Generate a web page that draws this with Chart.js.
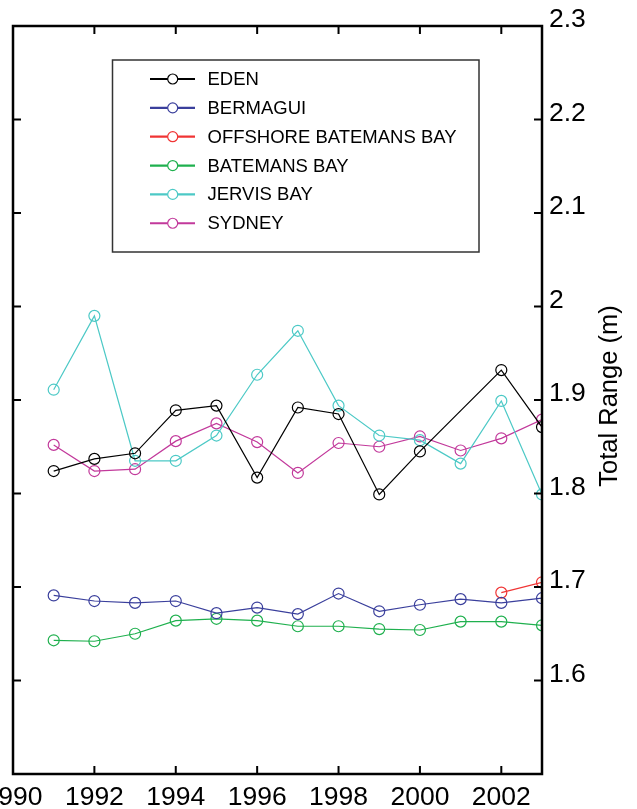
<!DOCTYPE html>
<html>
<head>
<meta charset="utf-8">
<script src="https://cdn.jsdelivr.net/npm/chart.js@4/dist/chart.umd.min.js"></script>
<style>
  html, body { margin: 0; padding: 0; background: #fff; overflow: hidden; width: 637px; height: 809px; }
  #wrap { position: absolute; left: -60px; top: 0; width: 697px; height: 809px; }
</style>
</head>
<body>
<div id="wrap"><canvas id="c" width="697" height="809"></canvas></div>
<script>
const years = [1991, 1992, 1993, 1994, 1995, 1996, 1997, 1998, 1999, 2000, 2001, 2002, 2003];
const eden      = [1.824, 1.837, 1.843, 1.889, 1.894, 1.817, 1.892, 1.885, 1.799, 1.845, null, 1.932, 1.871];
const bermagui  = [1.691, 1.685, 1.683, 1.685, 1.672, 1.678, 1.671, 1.693, 1.674, 1.681, 1.687, 1.683, 1.688];
const offshore  = [null, null, null, null, null, null, null, null, null, null, null, 1.694, 1.705];
const batemans  = [1.643, 1.642, 1.650, 1.664, 1.666, 1.664, 1.658, 1.658, 1.655, 1.654, 1.663, 1.663, 1.659];
const jervis    = [1.911, 1.990, 1.835, 1.835, 1.862, 1.927, 1.974, 1.894, 1.862, 1.857, 1.832, 1.899, 1.799];
const sydney    = [1.852, 1.824, 1.826, 1.856, 1.875, 1.855, 1.822, 1.854, 1.850, 1.861, 1.846, 1.859, 1.879];

const seriesNames  = ['EDEN', 'BERMAGUI', 'OFFSHORE BATEMANS BAY', 'BATEMANS BAY', 'JERVIS BAY', 'SYDNEY'];
const seriesValues = [eden, bermagui, offshore, batemans, jervis, sydney];
const seriesColors = ['#000000', '#3a3f9c', '#f03434', '#1fb04e', '#4cc9c6', '#c2399b'];

const xTickYears = [1990, 1992, 1994, 1996, 1998, 2000, 2002];
const yTickValues = [1.5, 1.6, 1.7, 1.8, 1.9, 2.0, 2.1, 2.2, 2.3];
const yTitle = 'Total Range (m)';

const FONT = '"Liberation Sans", Arial, Helvetica, sans-serif';

const datasets = seriesNames.map((name, i) => ({
  label: name,
  data: years.map((yr, j) => ({ x: yr, y: seriesValues[i][j] })),
  borderColor: seriesColors[i],
  backgroundColor: 'rgba(0,0,0,0)',
  pointBorderColor: seriesColors[i],
  pointBackgroundColor: 'rgba(0,0,0,0)',
  pointRadius: 5.5,
  pointBorderWidth: 1.2,
  borderWidth: 1.2,
  spanGaps: true,
  tension: 0
}));

const framePlugin = {
  id: 'frame',
  afterDraw(chart) {
    const ctx = chart.ctx;
    const a = chart.chartArea;
    const xs = chart.scales.x, ys = chart.scales.y;
    ctx.save();
    ctx.strokeStyle = '#000';
    // inward ticks
    ctx.lineWidth = 2;
    ctx.beginPath();
    xTickYears.forEach(v => {
      if (v <= xs.min || v >= xs.max) return;
      const px = xs.getPixelForValue(v);
      ctx.moveTo(px, a.bottom); ctx.lineTo(px, a.bottom - 8);
      ctx.moveTo(px, a.top); ctx.lineTo(px, a.top + 8);
    });
    yTickValues.forEach(v => {
      if (v <= ys.min + 1e-9 || v >= ys.max - 1e-9) return;
      const py = ys.getPixelForValue(v);
      ctx.moveTo(a.left, py); ctx.lineTo(a.left + 8, py);
      ctx.moveTo(a.right, py); ctx.lineTo(a.right - 8, py);
    });
    ctx.stroke();
    // frame
    ctx.lineWidth = 2.5;
    ctx.strokeRect(a.left, a.top, a.right - a.left, a.bottom - a.top);

    // legend box
    const bx = 172.5, by = 60, bw = 366.5, bh = 192;
    ctx.fillStyle = '#fff';
    ctx.fillRect(bx, by, bw, bh);
    ctx.lineWidth = 1.5;
    ctx.strokeStyle = '#333';
    ctx.strokeRect(bx, by, bw, bh);
    chart.data.datasets.forEach((ds, i) => {
      const cy = 79 + i * 28.85;
      ctx.strokeStyle = ds.borderColor;
      ctx.lineWidth = 2.2;
      ctx.beginPath();
      ctx.moveTo(210, cy); ctx.lineTo(255, cy);
      ctx.stroke();
      ctx.lineWidth = 1.2;
      ctx.beginPath();
      ctx.fillStyle = '#fff';
      ctx.arc(232.7, cy, 5, 0, Math.PI * 2);
      ctx.fill();
      ctx.stroke();
      ctx.fillStyle = '#000';
      ctx.font = '18.5px ' + FONT;
      ctx.textAlign = 'left';
      ctx.textBaseline = 'middle';
      ctx.fillText(ds.label, 267.5, cy + 1);
    });

    // rotated y title
    ctx.save();
    ctx.translate(670, 396);
    ctx.rotate(-Math.PI / 2);
    ctx.fillStyle = '#000';
    ctx.font = '25.5px ' + FONT;
    ctx.textAlign = 'center';
    ctx.textBaseline = 'middle';
    ctx.fillText(yTitle, 0, 0);
    ctx.restore();
    ctx.restore();
  }
};

new Chart(document.getElementById('c'), {
  type: 'line',
  data: { datasets },
  plugins: [framePlugin],
  options: {
    responsive: false,
    animation: false,
    layout: { padding: { left: 73, top: 26, right: 0, bottom: 0 } },
    plugins: { legend: { display: false }, tooltip: { enabled: false } },
    scales: {
      x: {
        type: 'linear',
        position: 'bottom',
        min: 1990,
        max: 2003,
        afterBuildTicks: s => { s.ticks = xTickYears.map(v => ({ value: v })); },
        afterFit: s => { s.height = 35; },
        grid: { display: false, drawTicks: false },
        border: { display: false },
        ticks: {
          autoSkip: false,
          maxRotation: 0,
          padding: 8,
          color: '#000',
          font: { family: FONT, size: 26.5 },
          callback: v => String(v)
        }
      },
      y: {
        type: 'linear',
        position: 'right',
        min: 1.5,
        max: 2.3,
        afterBuildTicks: s => { s.ticks = yTickValues.map(v => ({ value: v })); },
        afterFit: s => { s.width = 95; },
        grid: { display: false, drawTicks: false },
        border: { display: false },
        ticks: {
          autoSkip: false,
          padding: 7,
          labelOffset: -6,
          color: '#000',
          font: { family: FONT, size: 26.5 },
          callback: v => (Math.abs(v - 1.5) < 1e-9 ? '' : String(Number(Number(v).toFixed(1))))
        }
      }
    }
  }
});
</script>
</body>
</html>
